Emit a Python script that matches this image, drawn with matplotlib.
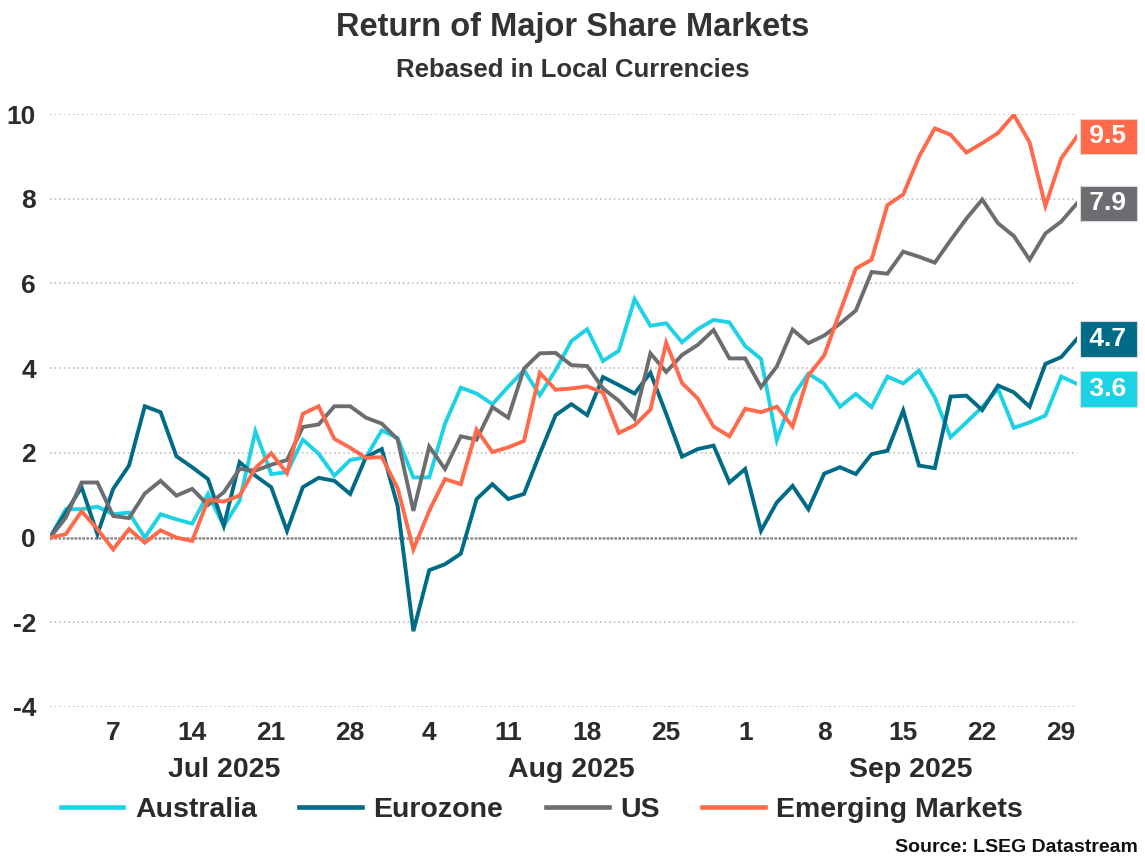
import matplotlib
matplotlib.use("Agg")
import matplotlib.pyplot as plt
import numpy as np
import pandas as pd

plt.rcParams['font.family'] = ['Liberation Sans', 'DejaVu Sans']
plt.rcParams['font.weight'] = 'bold'
plt.rcParams['axes.unicode_minus'] = False

# business days, 1 Jul - 30 Sep 2025
dates = pd.bdate_range('2025-07-01', '2025-09-30')

australia = [0, 0.67, 0.67, 0.73, 0.55, 0.59, 0.0, 0.55, 0.43, 0.33, 1.03, 0.28, 0.87,
             2.51, 1.50, 1.54, 2.31, 1.98, 1.46, 1.83, 1.90, 2.53, 2.35,
             1.42, 1.42, 2.69, 3.54, 3.40, 3.15, 3.56, 3.95, 3.36, 3.95, 4.64, 4.92,
             4.17, 4.41, 5.63, 5.00, 5.06, 4.61, 4.92, 5.14, 5.08, 4.52,
             4.22, 2.30, 3.33, 3.87, 3.63, 3.09, 3.39, 3.08, 3.80, 3.64, 3.94, 3.31,
             2.37, 2.72, 3.08, 3.51, 2.59, 2.72, 2.88, 3.80, 3.63]
eurozone = [0, 0.59, 1.19, 0.08, 1.15, 1.70, 3.10, 2.96, 1.92, 1.66, 1.38, 0.28, 1.78,
            1.46, 1.19, 0.16, 1.19, 1.41, 1.34, 1.03, 1.90, 2.09, 0.75,
            -2.21, -0.77, -0.63, -0.38, 0.91, 1.26, 0.91, 1.03, 1.98, 2.89, 3.15, 2.89,
            3.79, 3.60, 3.40, 3.89, 2.92, 1.91, 2.09, 2.17, 1.30, 1.62,
            0.16, 0.83, 1.22, 0.67, 1.51, 1.66, 1.50, 1.97, 2.05, 3.00, 1.70, 1.64,
            3.33, 3.35, 3.01, 3.59, 3.43, 3.09, 4.10, 4.26, 4.69]
us = [0, 0.47, 1.30, 1.30, 0.51, 0.46, 1.04, 1.34, 0.99, 1.15, 0.77, 1.07, 1.62,
      1.58, 1.72, 1.83, 2.61, 2.67, 3.10, 3.10, 2.83, 2.69, 2.32,
      0.63, 2.15, 1.62, 2.39, 2.31, 3.08, 2.83, 3.99, 4.35, 4.36, 4.07, 4.05,
      3.52, 3.23, 2.81, 4.35, 3.91, 4.31, 4.55, 4.90, 4.23, 4.23,
      3.55, 4.04, 4.91, 4.59, 4.77, 5.05, 5.36, 6.27, 6.23, 6.75, 6.63, 6.49,
      7.02, 7.53, 7.98, 7.42, 7.12, 6.56, 7.18, 7.46, 7.89]
emerging = [0, 0.08, 0.62, 0.20, -0.28, 0.20, -0.12, 0.17, 0.0, -0.08, 0.89, 0.85, 0.99,
            1.64, 1.99, 1.52, 2.92, 3.10, 2.33, 2.12, 1.88, 1.90, 1.17,
            -0.28, 0.63, 1.38, 1.26, 2.55, 2.02, 2.13, 2.28, 3.89, 3.49, 3.52, 3.57,
            3.42, 2.47, 2.65, 3.02, 4.60, 3.65, 3.28, 2.62, 2.39, 3.04,
            2.96, 3.09, 2.62, 3.83, 4.30, 5.33, 6.35, 6.56, 7.85, 8.10, 8.99, 9.66,
            9.51, 9.09, 9.31, 9.55, 9.98, 9.33, 7.83, 8.95, 9.47]

names = ['Australia', 'Eurozone', 'US', 'Emerging Markets']
colors = ['#1ED2E6', '#006B86', '#6C6D70', '#FF6A4B']
series = [australia, eurozone, us, emerging]

txt = '#2b2b2b'

fig = plt.figure(figsize=(11.45, 8.59), dpi=100)
ax = fig.add_axes([50 / 1145, 1 - 707 / 859, 1027 / 1145, 593 / 859])

x = np.arange(len(dates))
for name, col, vals in zip(names, colors, series):
    ax.plot(x, vals, color=col, lw=2.8, label=name, solid_joinstyle='miter', zorder=3)

ax.set_xlim(0, len(dates) - 1)
ax.set_ylim(-4, 10)
ax.set_yticks(range(-4, 11, 2))
ax.grid(axis='y', linestyle=(0, (1, 2)), color='#b5b5b5', lw=1.1)
ax.axhline(0, color='#8a8a8a', lw=1.8, linestyle=(0, (1, 0.6)), zorder=2)
for s in ax.spines.values():
    s.set_visible(False)

mondays = [i for i, d in enumerate(dates) if d.dayofweek == 0]
ax.set_xticks(mondays)
ax.set_xticklabels([str(dates[i].day) for i in mondays])
ax.tick_params(axis='both', length=0, labelsize=19, labelcolor=txt)
ax.tick_params(axis='x', pad=10)
ax.tick_params(axis='y', pad=10)

# month labels centred under each month
for m in [7, 8, 9]:
    idx = [i for i, d in enumerate(dates) if d.month == m]
    c = (idx[0] + idx[-1]) / 2
    ax.annotate(dates[idx[0]].strftime('%b %Y'), xy=(c, 0), xycoords=('data', 'axes fraction'),
                xytext=(0, -36), textcoords='offset points', ha='center', va='top',
                fontsize=20.5, color=txt, fontweight='bold')

# end-of-line value labels
last = [v[-1] for v in series]
order = np.argsort(last)[::-1]
pos = {}
prev = None
for k in order:
    y = last[k]
    if prev is not None and prev - y < 1.18:
        y = prev - 1.18
    pos[k] = y
    prev = y
sp = '\u2006'
for k in range(len(series)):
    ax.annotate(sp + '%.1f' % last[k] + sp, xy=(x[-1], pos[k]), xytext=(6, 0),
                textcoords='offset points', ha='left', va='center', fontsize=19,
                color='white', fontweight='bold', annotation_clip=False,
                bbox=dict(boxstyle='square,pad=0.22', fc=colors[k], ec='#d9d9d9', lw=0.8))

fig.text(0.5, 1 - 36 / 859, 'Return of Major Share Markets', ha='center', va='baseline',
         fontsize=23.5, color='#333333', fontweight='bold')
fig.text(0.5, 1 - 77 / 859, 'Rebased in Local Currencies', ha='center', va='baseline',
         fontsize=18.5, color='#333333', fontweight='bold')

fig.legend(loc='center', bbox_to_anchor=(542 / 1145, 1 - 810 / 859), ncol=4, frameon=False,
           fontsize=20.5, handlelength=2.2, handletextpad=0.4, columnspacing=1.5,
           labelcolor=txt)
for h in fig.legends[0].legend_handles:
    h.set_linewidth(3.3)

fig.text(1138 / 1145, 1 - 852 / 859, 'Source: LSEG Datastream', ha='right', va='baseline',
         fontsize=14, color='#111111', fontweight='bold')

fig.savefig('out.png', dpi=100)
